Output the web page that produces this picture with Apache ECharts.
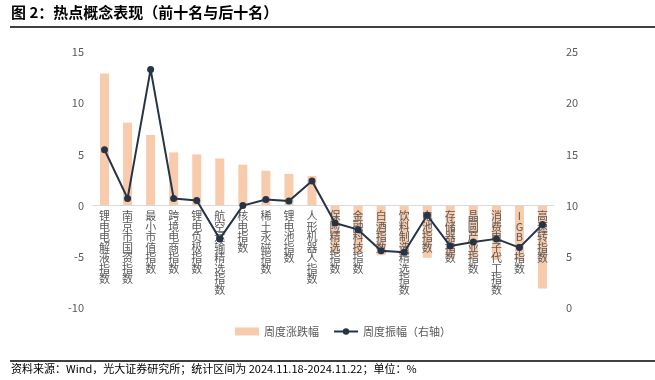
<!DOCTYPE html>
<html><head><meta charset="utf-8">
<script src="https://cdn.jsdelivr.net/npm/echarts@6/dist/echarts.min.js"></script>
<style>html,body{margin:0;padding:0;background:#fff}#c{width:655px;height:380px}</style>
</head><body><div id="c"></div>
<script>
var categories = ["锂电电解液指数","南京市国资指数","最小市值指数","跨境电商指数","锂电负极指数","航空运输精选指数","核电指数","稀土永磁指数","锂电池指数","人形机器人指数","保险精选指数","金融科技指数","白酒指数","饮料制造精选指数","电池指数","存储器指数","晶圆产业指数","消费电子代工指数","IGBT指数","高速转指数"];
var weeklyChange = [12.9, 8.1, 6.9, 5.2, 5.0, 4.6, 4.0, 3.4, 3.1, 2.9, -4.6, -4.7, -4.85, -4.9, -5.1, -5.2, -5.25, -5.3, -5.3, -8.1];
var weeklyAmplitude = [15.45, 10.7, 23.3, 10.7, 10.5, 6.75, 10.0, 10.6, 10.45, 12.4, 8.3, 7.65, 5.6, 5.45, 9.05, 6.05, 6.45, 6.75, 5.9, 8.15];
var leftTicks = [-10, 15, 5];
var rightTicks = [0, 25, 5];

var gridTop = 52, gridBottom = 72, chartH = 380;
var plotH = chartH - gridTop - gridBottom;
var zeroOffset = -plotH * (0 - leftTicks[0]) / (leftTicks[1] - leftTicks[0]);

var chart = echarts.init(document.getElementById('c'), null, {renderer:'canvas'});
var font = '"Noto Sans CJK SC", "Noto Sans", sans-serif';
chart.setOption({
  animation: false,
  textStyle: {fontFamily: font},
  grid: {left: 93, right: 101, top: gridTop, bottom: gridBottom, containLabel: false, outerBoundsMode: 'none'},
  legend: {
    top: 321, left: 230, itemGap: 14,
    textStyle: {fontSize: 11, color: '#595959', fontFamily: font},
    data: [
      {name: '周度涨跌幅', icon: 'rect', itemWidth: 22, itemHeight: 6},
      {name: '周度振幅（右轴）'}
    ],
    itemWidth: 24, itemHeight: 8
  },
  xAxis: {
    type: 'category', data: categories, z: 3, position: 'bottom', offset: zeroOffset,
    axisLine: {onZero: false, lineStyle: {color: '#D9D9D9', width: 1}},
    axisTick: {show: false},
    axisLabel: {
      interval: 0, margin: 5, fontSize: 11, lineHeight: 10.5, color: '#595959',
      verticalAlign: 'top', hideOverlap: false,
      formatter: function(v){ return v.split('').join('\n'); }
    }
  },
  yAxis: [
    {type: 'value', min: leftTicks[0], max: leftTicks[1], interval: leftTicks[2],
     axisLine: {show: false}, axisTick: {show: false}, splitLine: {show: false},
     axisLabel: {fontSize: 11, color: '#595959', margin: 9}},
    {type: 'value', min: rightTicks[0], max: rightTicks[1], interval: rightTicks[2],
     axisLine: {show: false}, axisTick: {show: false}, splitLine: {show: false},
     axisLabel: {fontSize: 11, color: '#595959', margin: 12}}
  ],
  series: [
    {name: '周度涨跌幅', type: 'bar', data: weeklyChange, yAxisIndex: 0, z: 1,
     barWidth: 9, itemStyle: {color: '#F8CBAD'}},
    {name: '周度振幅（右轴）', type: 'line', data: weeklyAmplitude, yAxisIndex: 1, z: 5,
     symbol: 'circle', symbolSize: 7,
     lineStyle: {color: '#253447', width: 2}, itemStyle: {color: '#253447'}}
  ],
  graphic: [
    {type: 'text', left: 11, top: 5, z: 10, style: {text: '图 2：热点概念表现（前十名与后十名）', font: 'bold 15px ' + font, fill: '#000'}},
    {type: 'line', z: 10, shape: {x1: 10, y1: 27, x2: 655, y2: 27}, style: {stroke: '#000', lineWidth: 1.5}},
    {type: 'line', z: 10, shape: {x1: 10, y1: 361, x2: 655, y2: 361}, style: {stroke: '#000', lineWidth: 1.5}},
    {type: 'text', left: 11, top: 363, z: 10, style: {text: '资料来源：Wind，光大证券研究所；统计区间为 2024.11.18-2024.11.22；单位：%', font: '11px ' + font, fill: '#000'}}
  ]
});
</script></body></html>
